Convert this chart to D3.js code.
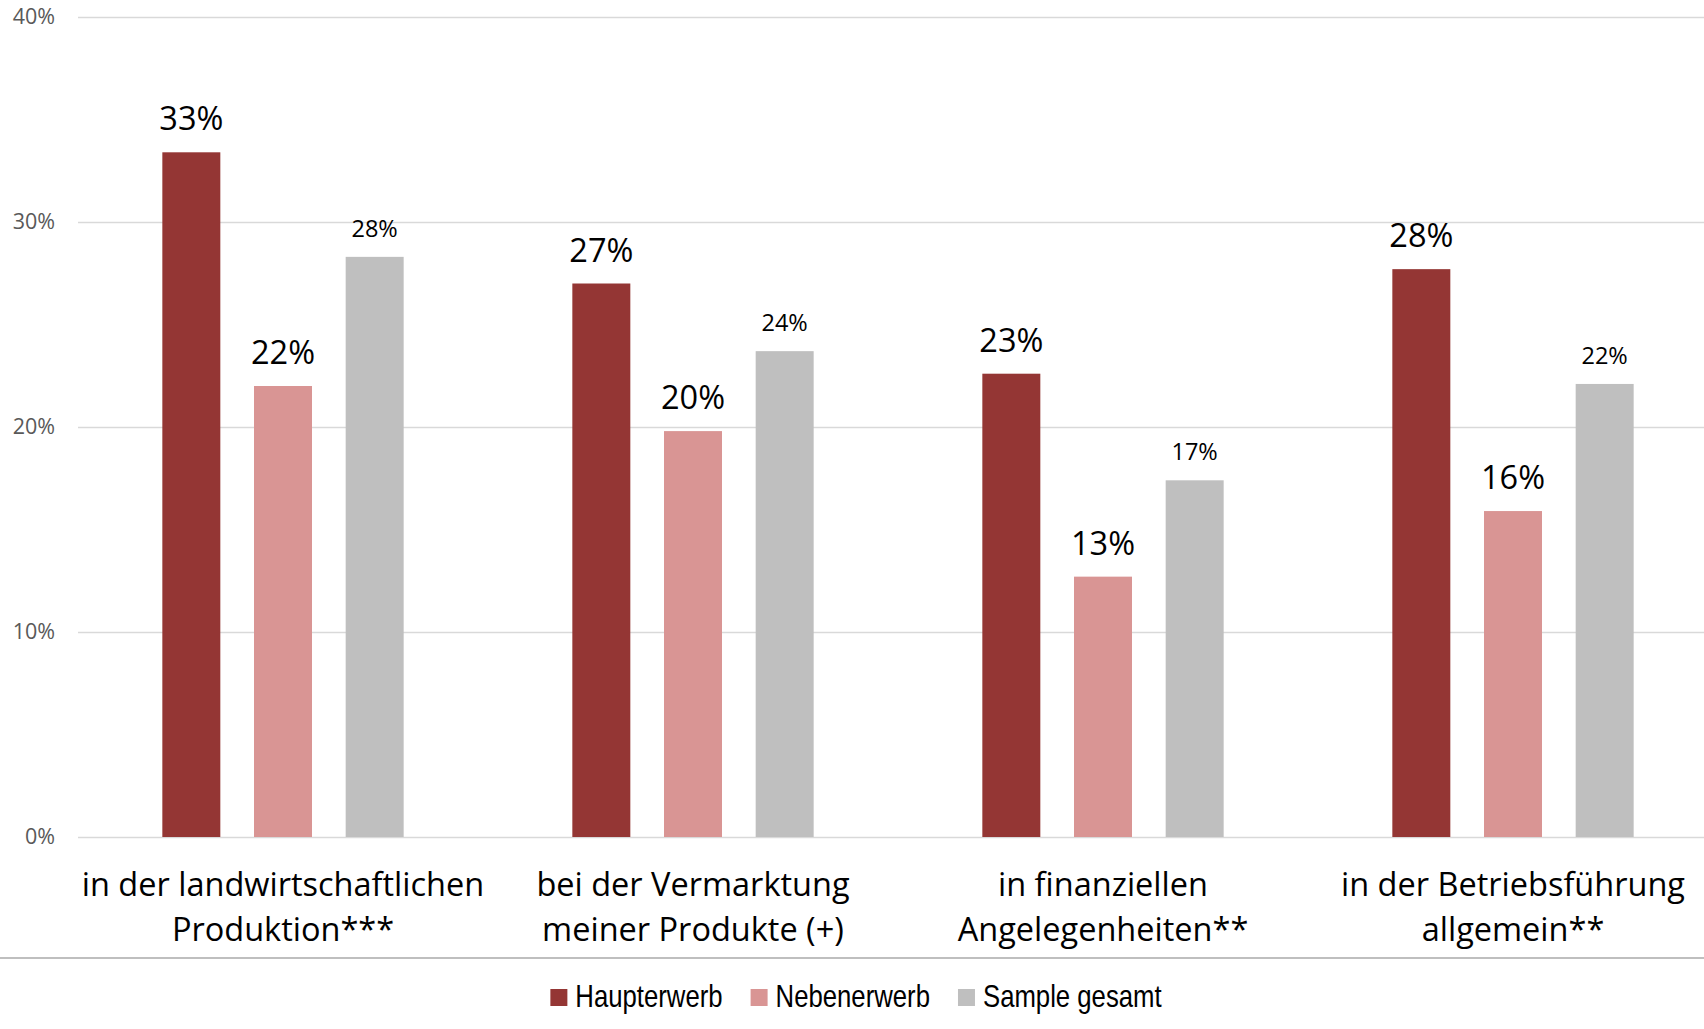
<!DOCTYPE html>
<html>
<head>
<meta charset="utf-8">
<script src="https://cdn.jsdelivr.net/npm/d3@7"></script>
<style>
  html, body { margin: 0; padding: 0; background: #fff; }
  svg { display: block; }
</style>
</head>
<body>
<div id="chart"></div>
<script>
// categories (line-broken as in the original)
const categories = [
  ['in der landwirtschaftlichen', 'Produktion***'],
  ['bei der Vermarktung', 'meiner Produkte (+)'],
  ['in finanziellen', 'Angelegenheiten**'],
  ['in der Betriebsführung', 'allgemein**']
];
const seriesNames = ['Haupterwerb', 'Nebenerwerb', 'Sample gesamt'];
const haupterwerb = [0.334, 0.270, 0.226, 0.277];
const nebenerwerb = [0.220, 0.198, 0.127, 0.159];
const sampleGesamt = [0.283, 0.237, 0.174, 0.221];
const yTicks = [0, 0.1, 0.2, 0.3, 0.4];

const colors = ['#943634', '#d99594', '#bfbfbf'];
const seriesValues = [haupterwerb, nebenerwerb, sampleGesamt];

const width = 1704, height = 1029;

const svg = d3.select('#chart').append('svg')
  .attr('width', width)
  .attr('height', height);

// Skalen
const x0 = d3.scaleBand()
  .domain(d3.range(categories.length))
  .range([78, 1718])
  .padding(0);

const x1 = d3.scaleBand()
  .domain(d3.range(seriesNames.length))
  .range([0, x0.bandwidth()])
  .paddingInner(0.3675)
  .paddingOuter(0.92);

const y = d3.scaleLinear()
  .domain([0, 0.4])
  .range([837, 17]);

// Gitterlinien
const yAxis = d3.axisLeft(y)
  .tickValues(yTicks)
  .tickFormat(d3.format('.0%'))
  .tickSize(-(width - 78))
  .tickPadding(23);

const gAxis = svg.append('g')
  .attr('transform', 'translate(78,0)')
  .call(yAxis);
gAxis.select('.domain').remove();
gAxis.selectAll('.tick line')
  .attr('stroke', '#d9d9d9')
  .attr('stroke-width', 1.6);
gAxis.selectAll('.tick text')
  .attr('fill', '#595959')
  .attr('font-family', 'Open Sans, sans-serif')
  .attr('font-size', '21.5px');

// Balken
const groups = svg.append('g')
  .selectAll('g')
  .data(categories)
  .enter()
  .append('g')
  .attr('transform', (d, i) => `translate(${x0(i)},0)`);

const bars = groups.selectAll('g.bar')
  .data((d, i) => seriesValues.map((vals, s) => ({ s, v: vals[i] })))
  .enter()
  .append('g')
  .attr('class', 'bar');

bars.append('rect')
  .attr('x', d => x1(d.s))
  .attr('y', d => y(d.v))
  .attr('width', x1.bandwidth())
  .attr('height', d => y(0) - y(d.v))
  .attr('fill', d => colors[d.s]);

// Werte
bars.append('text')
  .attr('x', d => x1(d.s) + x1.bandwidth() / 2)
  .attr('y', d => y(d.v) - (d.s === 2 ? 20 : 22))
  .attr('text-anchor', 'middle')
  .attr('font-family', 'Open Sans, sans-serif')
  .attr('font-size', d => d.s === 2 ? '23.5px' : '32.5px')
  .attr('fill', '#000')
  .text(d => d3.format('.0%')(d.v));

// Kategorienbeschriftung
const catLabel = svg.append('g')
  .selectAll('text')
  .data(categories)
  .enter()
  .append('text')
  .attr('x', (d, i) => x0(i) + x0.bandwidth() / 2)
  .attr('y', 896)
  .attr('text-anchor', 'middle')
  .attr('font-family', 'Open Sans, sans-serif')
  .attr('font-size', '32.5px')
  .attr('fill', '#000');

catLabel.selectAll('tspan')
  .data(d => d)
  .enter()
  .append('tspan')
  .attr('x', function () { return this.parentNode.getAttribute('x'); })
  .attr('dy', (d, i) => i === 0 ? 0 : 45)
  .text(d => d);

// Trennlinie
svg.append('line')
  .attr('x1', 0)
  .attr('x2', width)
  .attr('y1', 958)
  .attr('y2', 958)
  .attr('stroke', '#bfbfbf')
  .attr('stroke-width', 2.2);

// Legende (schmale Schrift nachgebildet)
const narrow = 0.83;
const legend = svg.append('g');
const items = legend.selectAll('g')
  .data(seriesNames)
  .enter()
  .append('g');

items.append('rect')
  .attr('width', 17)
  .attr('height', 17)
  .attr('y', 989)
  .attr('fill', (d, i) => colors[i]);

items.append('text')
  .attr('transform', `translate(25,1006.5) scale(${narrow},1)`)
  .attr('font-family', 'Liberation Sans, Arial, sans-serif')
  .attr('font-size', '31px')
  .attr('fill', '#000')
  .text(d => d);

// Legende horizontal anordnen
let cursor = 0;
const offsets = [];
items.each(function () {
  offsets.push(cursor);
  const w = this.querySelector('text').getComputedTextLength() * narrow;
  cursor += 25 + w + 28;
});
const totalW = cursor - 28;
const startX = 856 - totalW / 2;
items.attr('transform', (d, i) => `translate(${startX + offsets[i]},0)`);
</script>
</body>
</html>
